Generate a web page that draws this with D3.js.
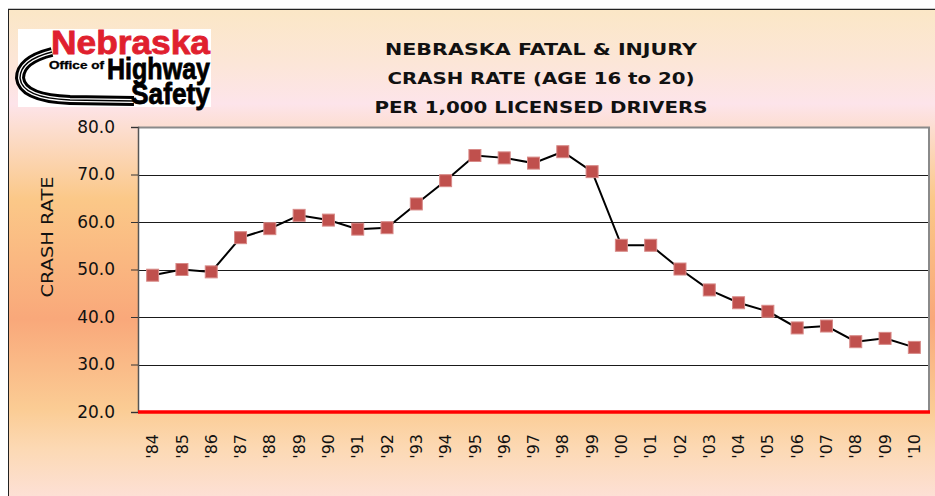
<!DOCTYPE html>
<html><head><meta charset="utf-8">
<script src="https://cdn.jsdelivr.net/npm/d3@7"></script>
<style>html,body{margin:0;padding:0;background:#fff;overflow:hidden}svg{display:block}</style>
</head><body>
<svg id="chart" width="935" height="496"></svg>
<script>
const years = ["'84","'85","'86","'87","'88","'89","'90","'91","'92","'93","'94","'95","'96","'97","'98","'99","'00","'01","'02","'03","'04","'05","'06","'07","'08","'09","'10"];
const crashRate = [48.8,50.0,49.5,56.7,58.6,61.4,60.4,58.5,58.8,63.8,68.7,74.0,73.5,72.4,74.8,70.6,55.1,55.1,50.1,45.7,43.0,41.2,37.7,38.1,34.8,35.5,33.6];
const yTicks = [20,30,40,50,60,70,80];
const titleLines = ["NEBRASKA FATAL & INJURY","CRASH RATE (AGE 16 to 20)","PER 1,000 LICENSED DRIVERS"];
const yAxisTitle = "CRASH RATE";

const svg = d3.select("#chart");
const defs = svg.append("defs");
const grad = defs.append("linearGradient").attr("id","bg").attr("x1",0).attr("y1",0).attr("x2",0).attr("y2",1);
[[0,"#fbe7c6"],[0.11,"#fce6d8"],[0.19,"#fde4ea"],[0.25,"#fcdcca"],[0.38,"#fbc888"],[0.62,"#f9a87a"],[0.8,"#fbcc94"],[0.88,"#fcd9b4"],[1,"#fde2de"]]
  .forEach(([o,c])=>grad.append("stop").attr("offset",o).attr("stop-color",c));

// background frame
svg.append("rect").attr("x",8).attr("y",9).attr("width",940).attr("height",500).attr("fill","url(#bg)");
svg.append("line").attr("x1",8).attr("x2",935).attr("y1",8.5).attr("y2",8.5).attr("stroke","#c8c8c8");
svg.append("line").attr("x1",8).attr("x2",935).attr("y1",9.5).attr("y2",9.5).attr("stroke","#222");
svg.append("line").attr("x1",8.5).attr("x2",8.5).attr("y1",9).attr("y2",496).attr("stroke","#222");

// plot
const L=138, R=929, T=127, B=412;
const x = d3.scaleBand().domain(years).range([L,R]).padding(0);
const y = d3.scaleLinear().domain([20,80]).range([B,T]);
svg.append("rect").attr("x",L).attr("y",T).attr("width",R-L).attr("height",B-T).attr("fill","#fff");

// gridlines
svg.append("g").selectAll("line").data(yTicks.filter(t=>t>20 && t<80)).join("line")
  .attr("x1",L).attr("x2",R).attr("y1",d=>Math.round(y(d))+0.5).attr("y2",d=>Math.round(y(d))+0.5)
  .attr("stroke","#1a1a1a").attr("stroke-width",1);
// plot border top/right
svg.append("path").attr("d",`M${L},${T+0.5}H${R}V${B}`).attr("fill","none").attr("stroke","#8a8a8a").attr("stroke-width",2);

// y axis
const yAxis = d3.axisLeft(y).tickValues(yTicks).tickFormat(d3.format(".1f")).tickSize(7).tickPadding(16);
const gy = svg.append("g").attr("transform",`translate(${L},0)`).call(yAxis);
gy.select(".domain").attr("stroke","#555").attr("stroke-width",1.5);
gy.selectAll(".tick line").attr("stroke","#333");
gy.selectAll("text").attr("font-family","'DejaVu Sans', sans-serif").attr("font-size",17).attr("fill","#111");

// red base line
svg.append("line").attr("x1",L).attr("x2",R+1).attr("y1",B).attr("y2",B).attr("stroke","#ff0000").attr("stroke-width",3.5);

// x labels
const xAxis = d3.axisBottom(x).tickSize(0).tickPadding(0);
const gx = svg.append("g").attr("transform",`translate(0,${B})`).call(xAxis);
gx.select(".domain").remove();
gx.selectAll("text").attr("font-family","'DejaVu Sans', sans-serif").attr("font-size",16).attr("fill","#111")
  .attr("text-anchor","end").attr("transform","translate(0,22) rotate(-90)").attr("dy","0.35em").attr("y",0).attr("x",0);

// line + markers
const cx = d=>x(d)+x.bandwidth()/2;
const line = d3.line().x((d,i)=>cx(years[i])).y(d=>y(d));
svg.append("path").datum(crashRate).attr("d",line).attr("fill","none").attr("stroke","#000").attr("stroke-width",2);
svg.append("g").selectAll("rect").data(crashRate).join("rect")
  .attr("x",(d,i)=>cx(years[i])-6).attr("y",d=>y(d)-6).attr("width",12).attr("height",12)
  .attr("fill","#c0504d").attr("stroke","#d88a88").attr("stroke-width",1);

// y axis title
svg.append("text").attr("transform","translate(53,237) rotate(-90)").attr("text-anchor","middle")
  .attr("font-family","'DejaVu Sans', sans-serif").attr("font-size",16).attr("fill","#111")
  .attr("textLength",121).attr("lengthAdjust","spacingAndGlyphs").text(yAxisTitle);

// title
const tw=[312,307,333];
svg.append("g").selectAll("text").data(titleLines).join("text")
  .attr("x",541).attr("y",(d,i)=>55+i*29).attr("text-anchor","middle")
  .attr("font-family","'Comic Sans MS','DejaVu Sans',sans-serif").attr("font-weight","bold").attr("font-size",16).attr("fill","#111")
  .attr("textLength",(d,i)=>tw[i]).attr("lengthAdjust","spacingAndGlyphs").text(d=>d);

// logo
const logo = svg.append("g");
logo.append("rect").attr("x",18).attr("y",29).attr("width",193).attr("height",78).attr("fill","#fff");
const road = "M52,52 Q20,60 20,78 Q22,98 70,100 L134,101";
logo.append("path").attr("d",road).attr("fill","none").attr("stroke","#000").attr("stroke-width",10);
logo.append("path").attr("d",road).attr("fill","none").attr("stroke","#fff").attr("stroke-width",4);
logo.append("path").attr("d",road).attr("fill","none").attr("stroke","#000").attr("stroke-width",1.5);
const lf = "'Liberation Sans Narrow','Liberation Sans',sans-serif";
logo.append("text").attr("x",51).attr("y",54).attr("font-family",lf).attr("font-weight","bold")
  .attr("font-size",33).attr("fill","#e0202e").attr("stroke","#e0202e").attr("stroke-width",0.8)
  .attr("textLength",159).attr("lengthAdjust","spacingAndGlyphs").text("Nebraska");
logo.append("text").attr("x",49).attr("y",69).attr("font-family",lf).attr("font-weight","bold")
  .attr("font-size",10).attr("fill","#000").attr("stroke","#000").attr("stroke-width",0.3)
  .attr("textLength",55).attr("lengthAdjust","spacingAndGlyphs").text("Office of");
logo.append("text").attr("x",107).attr("y",79).attr("font-family",lf).attr("font-weight","bold")
  .attr("font-size",29).attr("fill","#000").attr("stroke","#000").attr("stroke-width",0.8)
  .attr("textLength",103).attr("lengthAdjust","spacingAndGlyphs").text("Highway");
logo.append("text").attr("x",131).attr("y",104).attr("font-family",lf).attr("font-weight","bold")
  .attr("font-size",30).attr("fill","#000").attr("stroke","#000").attr("stroke-width",0.8)
  .attr("textLength",79).attr("lengthAdjust","spacingAndGlyphs").text("Safety");
</script>
</body></html>
